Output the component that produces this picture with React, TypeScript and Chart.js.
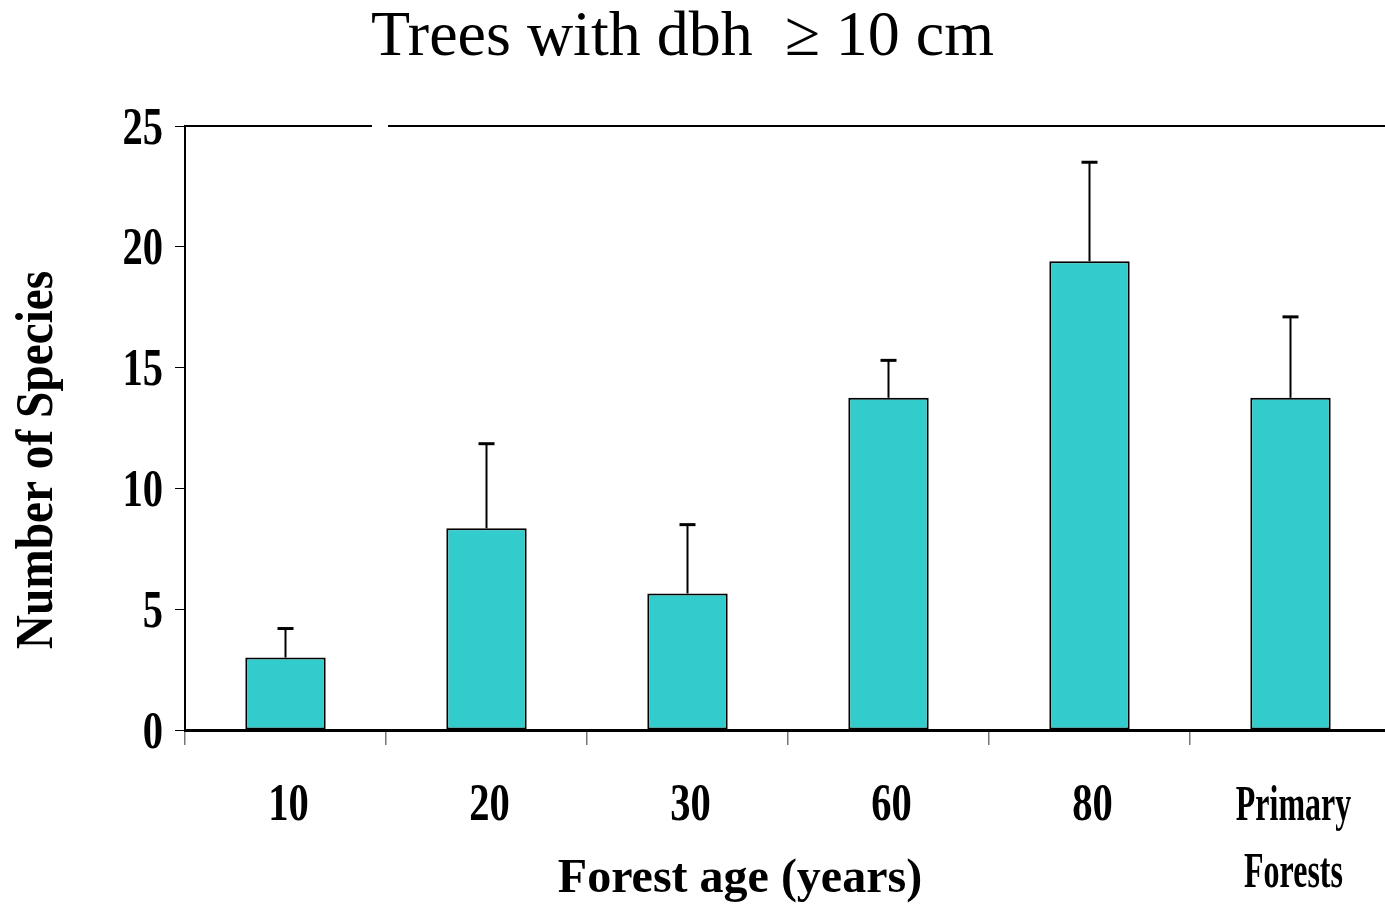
import React, { useEffect, useRef } from "react";
import { Chart, registerables } from "chart.js";

Chart.register(...registerables);

// ---- Data ----
const categories: (string | string[])[] = ["10", "20", "30", "60", "80", ["Primary", "Forests"]];
const speciesMeans = [3.0, 8.35, 5.65, 13.75, 19.4, 13.75];
const speciesErrors = [1.2, 3.5, 2.85, 1.55, 4.1, 3.35];
const yTickValues = [0, 5, 10, 15, 20, 25];
const chartTitle = "Trees with dbh  \u2265 10 cm";
const yAxisTitle = "Number of Species";
const xAxisTitle = "Forest age (years)";

const SERIF = '"Liberation Serif", "Times New Roman", serif';

function drawCondensed(
  ctx: CanvasRenderingContext2D,
  text: string,
  x: number,
  y: number,
  align: CanvasTextAlign,
  factor: number
) {
  ctx.save();
  ctx.translate(x, y);
  ctx.scale(factor, 1);
  ctx.textAlign = align;
  ctx.textBaseline = "alphabetic";
  ctx.fillText(text, 0, 0);
  ctx.restore();
}

const decorPlugin = {
  id: "decor",
  afterDatasetsDraw(chart: any) {
    const ctx: CanvasRenderingContext2D = chart.ctx;
    const yScale = chart.scales.y;
    const meta = chart.getDatasetMeta(0);
    ctx.save();
    ctx.strokeStyle = "#000";
    meta.data.forEach((el: any, i: number) => {
      const x = el.x;
      const yBar = yScale.getPixelForValue(speciesMeans[i]);
      const yTop = yScale.getPixelForValue(speciesMeans[i] + speciesErrors[i]);
      ctx.lineWidth = 2;
      ctx.beginPath();
      ctx.moveTo(x, yBar);
      ctx.lineTo(x, yTop);
      ctx.stroke();
      ctx.lineWidth = 3;
      ctx.beginPath();
      ctx.moveTo(x - 8, yTop);
      ctx.lineTo(x + 8, yTop);
      ctx.stroke();
    });
    ctx.restore();
  },
  afterDraw(chart: any) {
    const ctx: CanvasRenderingContext2D = chart.ctx;
    const area = chart.chartArea;
    const xScale = chart.scales.x;
    const yScale = chart.scales.y;
    ctx.save();

    // top frame line (with small gap as in the original)
    ctx.strokeStyle = "#000";
    ctx.lineWidth = 2;
    ctx.beginPath();
    ctx.moveTo(area.left, area.top);
    ctx.lineTo(372, area.top);
    ctx.moveTo(388, area.top);
    ctx.lineTo(chart.width, area.top);
    ctx.stroke();

    ctx.fillStyle = "#000";

    // y tick labels
    ctx.font = `bold 52px ${SERIF}`;
    yTickValues.forEach((v) => {
      const py = yScale.getPixelForValue(v);
      drawCondensed(ctx, String(v), area.left - 22, py + 17.5, "right", 0.78);
    });

    // x tick labels
    categories.forEach((lab, i) => {
      const px = xScale.getPixelForValue(i) + 3;
      const lines = Array.isArray(lab) ? lab : [lab];
      lines.forEach((ln, j) => {
        const isNum = /^\d+$/.test(ln);
        ctx.font = isNum ? `bold 52px ${SERIF}` : `bold 50px ${SERIF}`;
        drawCondensed(ctx, ln, px, area.bottom + 90 + j * 67, "center", isNum ? 0.78 : 0.64);
      });
    });

    // chart title
    ctx.font = `64px ${SERIF}`;
    ctx.textAlign = "left";
    ctx.textBaseline = "alphabetic";
    ctx.fillText(chartTitle, 371, 55);

    // x axis title
    ctx.font = `bold 48px ${SERIF}`;
    ctx.textAlign = "center";
    ctx.fillText(xAxisTitle, 740, 892);

    // y axis title
    ctx.save();
    ctx.translate(52, 460);
    ctx.rotate(-Math.PI / 2);
    ctx.font = `bold 52px ${SERIF}`;
    drawCondensed(ctx, yAxisTitle, 0, 0, "center", 0.91);
    ctx.restore();

    ctx.restore();
  },
};

export default function App() {
  const canvasRef = useRef<HTMLCanvasElement | null>(null);

  useEffect(() => {
    const canvas = canvasRef.current;
    if (!canvas) return;
    const chart = new Chart(canvas, {
      type: "bar",
      data: {
        labels: categories as any,
        datasets: [
          {
            data: speciesMeans,
            backgroundColor: "#33CCCC",
            borderColor: "#000",
            borderWidth: 2,
            borderSkipped: false,
            barPercentage: 0.4,
            categoryPercentage: 1.0,
          },
        ],
      },
      options: {
        responsive: false,
        animation: false,
        devicePixelRatio: 1,
        layout: { padding: { top: 126, left: 0, right: 0, bottom: 0 } },
        plugins: {
          legend: { display: false },
          tooltip: { enabled: false },
          title: { display: false },
        },
        scales: {
          x: {
            type: "category",
            offset: true,
            grid: {
              display: true,
              drawOnChartArea: false,
              drawTicks: true,
              tickLength: 15,
              color: "#777",
              lineWidth: 1.5,
              offset: true,
            },
            border: { display: true, color: "#000", width: 3 },
            ticks: { display: false },
            afterFit: (s: any) => {
              s.height = 174;
            },
          },
          y: {
            min: 0,
            max: 25,
            ticks: { stepSize: 5, display: false },
            grid: {
              drawOnChartArea: false,
              drawTicks: true,
              tickLength: 10,
              color: "#000",
              lineWidth: 1,
            },
            border: { display: true, color: "#000", width: 2 },
            afterFit: (s: any) => {
              s.width = 185;
            },
          },
        },
      },
      plugins: [decorPlugin],
    });
    return () => chart.destroy();
  }, []);

  return (
    <div
      style={{
        position: "absolute",
        left: 0,
        top: 0,
        width: 1385,
        height: 904,
        overflow: "hidden",
        background: "#fff",
      }}
    >
      <canvas
        ref={canvasRef}
        width={1391}
        height={904}
        style={{ display: "block", width: 1391, height: 904 }}
      />
    </div>
  );
}
